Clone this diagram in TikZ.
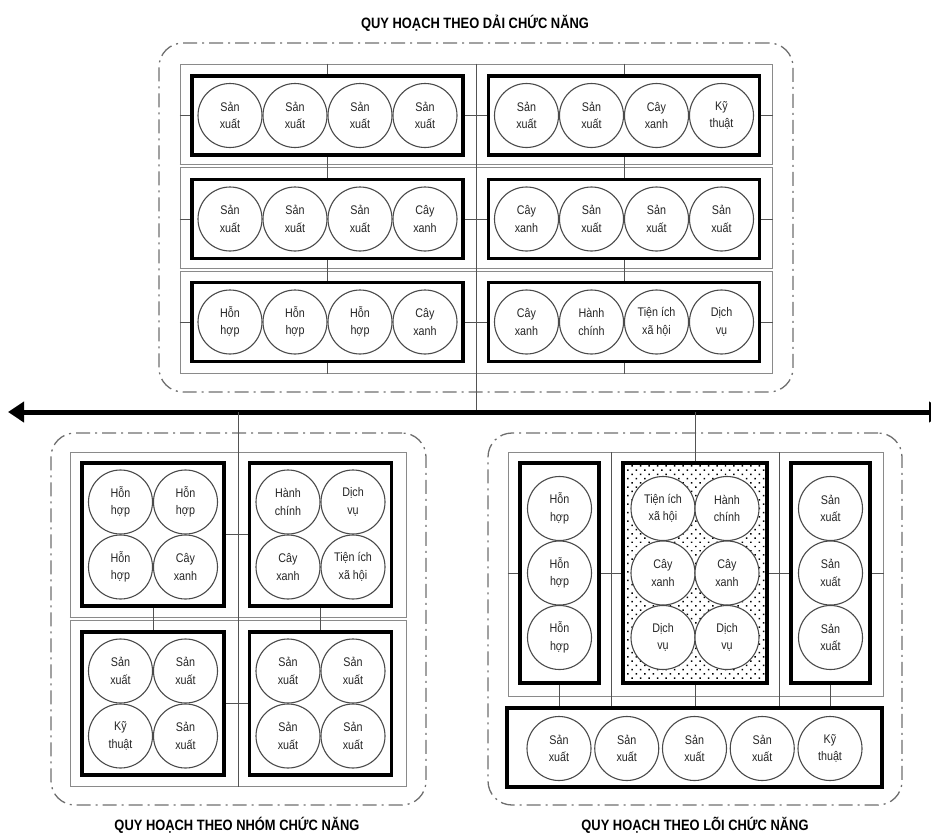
\documentclass[tikz,border=0pt]{standalone}
\usepackage{fontspec}
\setmainfont{Liberation Sans}
\newfontfamily\cfont[FakeStretch=0.86]{Liberation Sans}
\usetikzlibrary{arrows.meta,patterns.meta,calc}
\definecolor{gridgray}{HTML}{8A8A8A}
\definecolor{dashgray}{HTML}{6E6E6E}
\definecolor{circgray}{HTML}{4A4A4A}
\tikzset{
  panelbox/.style={rectangle, draw=dashgray, line width=1.3pt, dash pattern=on 14pt off 5pt on 2pt off 5pt, rounded corners=24pt, inner sep=0pt},
  gridbox/.style={rectangle, draw=gridgray, line width=1pt, inner sep=0pt},
  gl/.style={draw=gridgray!60!black, line width=1pt},
  dgl/.style={draw=gridgray, line width=0.8pt, double=white, double distance=2.4pt},
  blk/.style={rectangle, draw=black, line width=3.5pt, fill=white, inner sep=0pt},
  dotblk/.style={rectangle, draw=black, line width=3.5pt, inner sep=0pt, pattern={Dots[distance=6pt,radius=1.05pt,angle=45]}, pattern color=black},
  cir/.style={circle, draw=circgray, line width=1.1pt, fill=white, minimum size=64pt, inner sep=0pt, align=center, text=black!85, font=\cfont\fontsize{12.5}{17.5}\selectfont},
  ttl/.style={inner sep=0pt, font=\cfont\bfseries\fontsize{15}{17}\selectfont},
  bigarrow/.style={line width=5pt, {Triangle[length=16pt,width=20pt]}-{Triangle[length=16pt,width=20pt]}}
}
\begin{document}
\begin{tikzpicture}[x=1pt,y=-1pt]
\useasboundingbox (0,0) rectangle (931,835);
\coordinate (al) at (8,412);
\coordinate (ar) at (945,412);

% ================= TOP PANEL =================
\node[ttl] (T1) at (475,23) {QUY HOẠCH THEO DẢI CHỨC NĂNG};
\node[panelbox, minimum width=634pt, minimum height=349pt] (tp) at (476,217.5) {};
\node[gridbox, minimum width=592pt, minimum height=309pt] (tg) at (476,218.5) {};
\coordinate (s1) at (476,166);
\coordinate (s2) at (476,270);
\draw[dgl] (tg.west |- s1) -- (tg.east |- s1);
\draw[dgl] (tg.west |- s2) -- (tg.east |- s2);
\draw[gl] (tg.north) -- (tg.north |- al);

\node[blk, minimum width=271pt, minimum height=79pt] (t11) at (327.5,115.5) {};
\node[blk, minimum width=271pt, minimum height=79pt] (t12) at (624,115.5) {};
\node[blk, minimum width=271pt, minimum height=79pt] (t21) at (327.5,219) {};
\node[blk, minimum width=271pt, minimum height=79pt] (t22) at (624,219) {};
\node[blk, minimum width=271pt, minimum height=79pt] (t31) at (327.5,322) {};
\node[blk, minimum width=271pt, minimum height=79pt] (t32) at (624,322) {};

\foreach \r in {1,2,3}{
  \draw[gl] (tg.west |- t\r1) -- (t\r1.west);
  \draw[gl] (t\r1.east) -- (t\r2.west);
  \draw[gl] (t\r2.east) -- (tg.east |- t\r2);
}
\foreach \c in {1,2}{
  \draw[gl] (tg.north -| t1\c) -- (t1\c.north);
  \draw[gl] (t1\c.south) -- (t2\c.north);
  \draw[gl] (t2\c.south) -- (t3\c.north);
  \draw[gl] (t3\c.south) -- (tg.south -| t3\c);
}

\foreach \lbl [count=\i from 0] in {{Sản\\xuất},{Sản\\xuất},{Sản\\xuất},{Sản\\xuất}}
  \node[cir] (t11c\i) at ($(t11)+({-97.5+65*\i},0)$) {\lbl};
\foreach \lbl [count=\i from 0] in {{Sản\\xuất},{Sản\\xuất},{Cây\\xanh},{Kỹ\\thuật}}
  \node[cir] (t12c\i) at ($(t12)+({-97.5+65*\i},0)$) {\lbl};
\foreach \lbl [count=\i from 0] in {{Sản\\xuất},{Sản\\xuất},{Sản\\xuất},{Cây\\xanh}}
  \node[cir] (t21c\i) at ($(t21)+({-97.5+65*\i},0)$) {\lbl};
\foreach \lbl [count=\i from 0] in {{Cây\\xanh},{Sản\\xuất},{Sản\\xuất},{Sản\\xuất}}
  \node[cir] (t22c\i) at ($(t22)+({-97.5+65*\i},0)$) {\lbl};
\foreach \lbl [count=\i from 0] in {{Hỗn\\hợp},{Hỗn\\hợp},{Hỗn\\hợp},{Cây\\xanh}}
  \node[cir] (t31c\i) at ($(t31)+({-97.5+65*\i},0)$) {\lbl};
\foreach \lbl [count=\i from 0] in {{Cây\\xanh},{Hành\\chính},{Tiện ích\\xã hội},{Dịch\\vụ}}
  \node[cir] (t32c\i) at ($(t32)+({-97.5+65*\i},0)$) {\lbl};

% ================= ARROW =================
\draw[bigarrow] (al) -- (ar);

% ================= BOTTOM LEFT =================
\node[panelbox, minimum width=375pt, minimum height=372pt] (bp) at (238.5,619) {};
\node[gridbox, minimum width=336pt, minimum height=334pt] (bg) at (238,619) {};
\draw[dgl] (bg.west) -- (bg.east);
\draw[gl] (bg.south) -- (bg.south |- al);
\node[blk, minimum width=142pt, minimum height=143pt] (b1) at (153,534.5) {};
\node[blk, minimum width=142pt, minimum height=143pt] (b2) at (320.5,534.5) {};
\node[blk, minimum width=142pt, minimum height=143pt] (b3) at (153,703.5) {};
\node[blk, minimum width=142pt, minimum height=143pt] (b4) at (320.5,703.5) {};
\draw[gl] (b1.east) -- (b2.west);
\draw[gl] (b3.east) -- (b4.west);
\draw[gl] (b1.south) -- (b3.north);
\draw[gl] (b2.south) -- (b4.north);

\node[cir] (b1a) at ($(b1)+(-32.5,-32.5)$) {Hỗn\\hợp};
\node[cir] (b1b) at ($(b1)+(32.5,-32.5)$) {Hỗn\\hợp};
\node[cir] (b1c) at ($(b1)+(-32.5,32.5)$) {Hỗn\\hợp};
\node[cir] (b1d) at ($(b1)+(32.5,32.5)$) {Cây\\xanh};
\node[cir] (b2a) at ($(b2)+(-32.5,-32.5)$) {Hành\\chính};
\node[cir] (b2b) at ($(b2)+(32.5,-32.5)$) {Dịch\\vụ};
\node[cir] (b2c) at ($(b2)+(-32.5,32.5)$) {Cây\\xanh};
\node[cir] (b2d) at ($(b2)+(32.5,32.5)$) {Tiện ích\\xã hội};
\node[cir] (b3a) at ($(b3)+(-32.5,-32.5)$) {Sản\\xuất};
\node[cir] (b3b) at ($(b3)+(32.5,-32.5)$) {Sản\\xuất};
\node[cir] (b3c) at ($(b3)+(-32.5,32.5)$) {Kỹ\\thuật};
\node[cir] (b3d) at ($(b3)+(32.5,32.5)$) {Sản\\xuất};
\node[cir] (b4a) at ($(b4)+(-32.5,-32.5)$) {Sản\\xuất};
\node[cir] (b4b) at ($(b4)+(32.5,-32.5)$) {Sản\\xuất};
\node[cir] (b4c) at ($(b4)+(-32.5,32.5)$) {Sản\\xuất};
\node[cir] (b4d) at ($(b4)+(32.5,32.5)$) {Sản\\xuất};
\node[ttl] (T2) at (237,825) {QUY HOẠCH THEO NHÓM CHỨC NĂNG};

% ================= BOTTOM RIGHT =================
\node[panelbox, minimum width=414pt, minimum height=372pt] (rp) at (695,619) {};
\node[gridbox, minimum width=375pt, minimum height=244pt] (rg) at (695.5,574) {};
\node[blk, minimum width=79pt, minimum height=220pt] (r1) at (559.5,573) {};
\node[dotblk, minimum width=144pt, minimum height=220pt] (r2) at (695,573) {};
\node[blk, minimum width=79pt, minimum height=220pt] (r3) at (830.5,573) {};
\node[blk, minimum width=375pt, minimum height=79pt] (rb) at (694.5,747.5) {};
\coordinate (dv1) at (611,452);
\coordinate (dv2) at (779,452);
\draw[gl] (dv1) -- (dv1 |- rb.north);
\draw[gl] (dv2) -- (dv2 |- rb.north);
\draw[gl] (r2.north) -- (r2.north |- al);
\draw[gl] (rg.west |- r1) -- (r1.west);
\draw[gl] (r1.east) -- (r2.west);
\draw[gl] (r2.east) -- (r3.west);
\draw[gl] (r3.east) -- (rg.east |- r3);
\draw[gl] (r1.south) -- (r1.south |- rb.north);
\draw[gl] (r2.south) -- (r2.south |- rb.north);
\draw[gl] (r3.south) -- (r3.south |- rb.north);

\foreach \lbl [count=\i from 0] in {{Hỗn\\hợp},{Hỗn\\hợp},{Hỗn\\hợp}}
  \node[cir] (r1c\i) at ($(r1)+(0,{-64.5+64.5*\i})$) {\lbl};
\foreach \lbl [count=\i from 0] in {{Sản\\xuất},{Sản\\xuất},{Sản\\xuất}}
  \node[cir] (r3c\i) at ($(r3)+(0,{-64.5+64.5*\i})$) {\lbl};
\node[cir] (r2a) at ($(r2)+(-32,-64.5)$) {Tiện ích\\xã hội};
\node[cir] (r2b) at ($(r2)+(32,-64.5)$) {Hành\\chính};
\node[cir] (r2c) at ($(r2)+(-32,0)$) {Cây\\xanh};
\node[cir] (r2d) at ($(r2)+(32,0)$) {Cây\\xanh};
\node[cir] (r2e) at ($(r2)+(-32,64.5)$) {Dịch\\vụ};
\node[cir] (r2f) at ($(r2)+(32,64.5)$) {Dịch\\vụ};
\foreach \lbl [count=\i from 0] in {{Sản\\xuất},{Sản\\xuất},{Sản\\xuất},{Sản\\xuất},{Kỹ\\thuật}}
  \node[cir] (rbc\i) at ($(rb)+({-135.5+67.75*\i},1)$) {\lbl};
\node[ttl] (T3) at (695,825) {QUY HOẠCH THEO LÕI CHỨC NĂNG};
\end{tikzpicture}
\end{document}
